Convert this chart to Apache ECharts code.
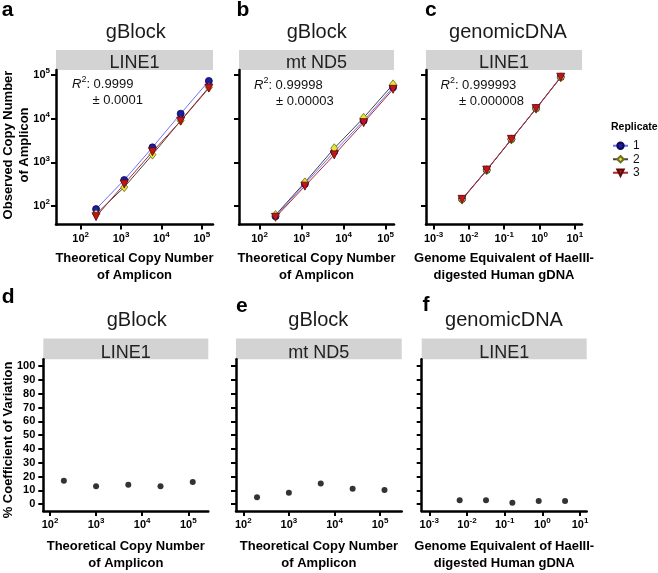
<!DOCTYPE html>
<html><head><meta charset="utf-8">
<script src="https://cdn.jsdelivr.net/npm/echarts@6/dist/echarts.min.js"></script>
<style>html,body{margin:0;padding:0;background:#fff}#c{width:658px;height:573px}</style>
</head><body><div id="c"></div>
<script>
// ---------------- data ----------------
const xCopy = [240, 1200, 6000, 30000, 150000];          // theoretical copies (a, b)
const xGenome = [0.0064, 0.032, 0.16, 0.8, 4];           // genome equivalents (c, f)
const xCopyCV = [200, 1000, 5000, 25000, 125000];        // theoretical copies (d, e)
const line1Rep1 = [85, 394, 2200, 13000, 73000];
const line1Rep2 = [65, 270, 1500, 9000, 52000];
const line1Rep3 = [57, 318, 1750, 8800, 50000];
const nd5Rep1 = [58, 320, 1750, 9000, 52000];
const nd5Rep2 = [62, 348, 2100, 10500, 61000];
const nd5Rep3 = [55, 285, 1480, 8100, 47000];
const gdnaRep1 = [145, 670, 3400, 17200, 90000];
const gdnaRep2 = [140, 660, 3350, 16900, 88000];
const gdnaRep3 = [142, 665, 3360, 17000, 89000];
const cvLine1 = [17, 13, 14, 13, 16];
const cvNd5 = [5, 8.3, 15, 11.2, 10.2];
const cvGdna = [2.8, 2.8, 1.0, 2.3, 2.3];
const copyTicks = [100, 1000, 10000, 100000];
const genomeTicks = [0.001, 0.01, 0.1, 1, 10];
const cvTicks = [0, 10, 20, 30, 40, 50, 60, 70, 80, 90, 100];
const replicateNames = ['1', '2', '3'];
const r2Texts = [['0.9999', '± 0.0001'], ['0.99998', '± 0.00003'], ['0.999993', '± 0.000008']];

// ---------------- styles ----------------
const FONT = '"Liberation Sans", Arial, Helvetica, sans-serif';
const repStyle = [
  {symbol: 'circle', size: 7, rot: 0, fill: '#1c1c9e', border: '#0a0a55', line: '#6f6fff'},
  {symbol: 'diamond', size: [7, 9], rot: 0, fill: '#e6e43a', border: '#6e6e1e', line: '#444444'},
  {symbol: 'triangle', size: 8, rot: 180, fill: '#c3141c', border: '#5e0808', line: '#b02a2a'}
];
function powLabel(v) { const e = Math.round(Math.log10(v)); return '{b|10}{s|' + e + '}'; }
const richSup = {
  b: {fontSize: 11, fontWeight: 'bold', fontFamily: FONT, color: '#000'},
  s: {fontSize: 8, fontWeight: 'bold', fontFamily: FONT, color: '#000', padding: [0, 0, 8, 0]}
};
const axisLineStyle = {show: true, onZero: false, lineStyle: {color: '#000', width: 2.5}};
function tickStyle(ticks) { return {show: true, inside: false, length: 5, lineStyle: {color: '#000', width: 2}, customValues: ticks}; }
function logAxis(gridIndex, min, max, ticks, showLabels, extra) {
  return Object.assign({
    type: 'log', logBase: 10, gridIndex: gridIndex, min: min, max: max,
    axisLine: axisLineStyle, axisTick: tickStyle(ticks),
    axisLabel: {show: showLabels, customValues: ticks, formatter: powLabel, rich: richSup, margin: 6},
    splitLine: {show: false}, minorTick: {show: false}, minorSplitLine: {show: false}
  }, extra || {});
}
function cvAxis(gridIndex, showLabels) {
  return {
    type: 'value', gridIndex: gridIndex, min: -5, max: 105,
    axisLine: axisLineStyle, axisTick: tickStyle(cvTicks),
    axisLabel: {show: showLabels, customValues: cvTicks, fontSize: 11, fontWeight: 'bold', fontFamily: FONT, color: '#000', margin: 8},
    splitLine: {show: false}
  };
}
const xNameStyle = {fontWeight: 'bold', fontSize: 13, lineHeight: 17, fontFamily: FONT, color: '#000'};
const copyName = 'Theoretical Copy Number\nof Amplicon';
const genomeName = 'Genome Equivalent of HaeIII-\ndigested Human gDNA';

const grids = [
  {left: 56, top: 70, width: 157, height: 154.5},
  {left: 239, top: 70, width: 155, height: 154.5},
  {left: 426, top: 70, width: 156, height: 154.5},
  {left: 43.3, top: 359.3, width: 165, height: 154},
  {left: 236, top: 359.3, width: 165.7, height: 154},
  {left: 421.7, top: 359.3, width: 165, height: 154}
];
function xname(name, gap) { return {name: name, nameLocation: 'middle', nameGap: gap, nameTextStyle: xNameStyle}; }
const xAxes = [
  logAxis(0, 24.4, 190000, copyTicks, true, xname(copyName, 25)),
  logAxis(1, 32.5, 158000, copyTicks, true, xname(copyName, 25)),
  logAxis(2, 0.00061, 16, genomeTicks, true, xname(genomeName, 25)),
  logAxis(3, 71.6, 272000, copyTicks, true, xname(copyName, 27)),
  logAxis(4, 69.2, 298000, copyTicks, true, xname(copyName, 27)),
  logAxis(5, 0.00063, 15, genomeTicks, true, xname(genomeName, 27))
];
const yAxes = [
  logAxis(0, 37.7, 130000, copyTicks, true),
  logAxis(1, 37.7, 130000, copyTicks, false),
  logAxis(2, 37.7, 130000, copyTicks, false),
  cvAxis(3, true), cvAxis(4, false), cvAxis(5, false)
];

function zip(xs, ys) { return xs.map((x, i) => [x, ys[i]]); }
const series = [];
const topSets = [[line1Rep1, line1Rep2, line1Rep3], [nd5Rep1, nd5Rep2, nd5Rep3], [gdnaRep1, gdnaRep2, gdnaRep3]];
const topX = [xCopy, xCopy, xGenome];
topSets.forEach((reps, p) => {
  reps.forEach((ys, r) => {
    const st = repStyle[r];
    series.push({
      type: 'line', name: replicateNames[r], xAxisIndex: p, yAxisIndex: p,
      data: zip(topX[p], ys), symbol: st.symbol, symbolSize: st.size, symbolRotate: st.rot,
      showAllSymbol: true, silent: true, animation: false,
      lineStyle: {color: st.line, width: 1},
      itemStyle: {color: st.fill, borderColor: st.border, borderWidth: 0.8}
    });
  });
});
const cvSets = [cvLine1, cvNd5, cvGdna];
const cvX = [xCopyCV, xCopyCV, xGenome];
cvSets.forEach((ys, p) => {
  series.push({
    type: 'scatter', name: 'cv', xAxisIndex: p + 3, yAxisIndex: p + 3,
    data: zip(cvX[p], ys), symbol: 'circle', symbolSize: 6, animation: false,
    itemStyle: {color: '#000'}
  });
});

// ---------------- annotations ----------------
function txt(x, y, text, size, weight, extra) {
  return Object.assign({type: 'text', x: x, y: y, silent: true, style: Object.assign({
    text: text, fill: '#111', fontSize: size, fontWeight: weight || 'normal', fontFamily: FONT,
    align: 'center', textAlign: 'center', verticalAlign: 'middle', textVerticalAlign: 'middle'
  }, (extra && extra.style) || {})}, (extra && extra.el) || {});
}
const graphic = [];
// panel letters
[['a', 1.7, 10.5], ['b', 236.5, 10.5], ['c', 425, 10.5], ['d', 1.7, 297], ['e', 236, 306], ['f', 422.5, 305]].forEach(l => {
  graphic.push(txt(l[1], l[2], l[0], 21, 'bold', {style: {align: 'left', textAlign: 'left', fill: '#000'}}));
});
// titles
[['gBlock', 135.8, 32.3], ['gBlock', 316.7, 32.3], ['genomicDNA', 508, 32.5],
 ['gBlock', 136.7, 320.6], ['gBlock', 318.3, 320.6], ['genomicDNA', 504, 320.6]].forEach(t => {
  graphic.push(txt(t[1], t[2], t[0], 20, 'normal', {style: {fill: '#1a1a1a'}}));
});
// strips
const stripLabels = ['LINE1', 'mt ND5', 'LINE1', 'LINE1', 'mt ND5', 'LINE1'];
grids.forEach((g, i) => {
  const top = i < 3 ? 50 : 338.5;
  const bottom = g.top;
  graphic.push({type: 'rect', silent: true, shape: {x: g.left, y: top, width: g.width, height: bottom - top}, style: {fill: '#d3d3d3'}, z: 0});
  graphic.push(txt(g.left + g.width / 2, bottom - 6.5, stripLabels[i], 18, 'normal', {style: {fill: '#222'}, el: {z: 1}}));
});
// R^2 annotations
const r2Pos = [[72, 84, 92.5, 100.5], [254, 85, 276, 101], [440.5, 85, 459, 101]];
r2Pos.forEach((p, i) => {
  graphic.push({type: 'text', x: p[0], y: p[1], silent: true, z: 2, style: {
    text: '{i|R}{s|2}{n|: ' + r2Texts[i][0] + '}', align: 'left', textAlign: 'left', verticalAlign: 'middle', textVerticalAlign: 'middle',
    rich: {
      i: {fontSize: 13, fontStyle: 'italic', fontFamily: FONT, fill: '#111', color: '#111'},
      s: {fontSize: 9, fontFamily: FONT, fill: '#111', color: '#111', padding: [0, 0, 8, 0]},
      n: {fontSize: 13, fontFamily: FONT, fill: '#111', color: '#111'}
    }
  }});
  graphic.push(txt(p[2], p[3], r2Texts[i][1], 13, 'normal', {style: {align: 'left', textAlign: 'left'}}));
});
// y axis titles
graphic.push(txt(16, 145, 'Observed Copy Number\nof Amplicon', 13, 'bold', {style: {fill: '#000', lineHeight: 16}, el: {rotation: Math.PI / 2}}));
graphic.push(txt(8, 440, '% Coefficient of Variation', 13, 'bold', {style: {fill: '#000'}, el: {rotation: Math.PI / 2}}));
// legend title
graphic.push(txt(611, 127, 'Replicate', 10.5, 'bold', {style: {align: 'left', textAlign: 'left', fill: '#000'}}));

const chart = echarts.init(document.getElementById('c'), null, {renderer: 'canvas'});
chart.setOption({
  backgroundColor: '#fff',
  animation: false,
  textStyle: {fontFamily: FONT},
  grid: grids,
  xAxis: xAxes,
  yAxis: yAxes,
  series: series,
  graphic: graphic,
  legend: {
    data: replicateNames, left: 612, top: 139, orient: 'vertical', itemWidth: 15, itemHeight: 8, itemGap: 0,
    padding: 0,
    textStyle: {fontSize: 12, lineHeight: 13.5, fontFamily: FONT, color: '#111'}, selectedMode: false
  }
});
</script></body></html>
